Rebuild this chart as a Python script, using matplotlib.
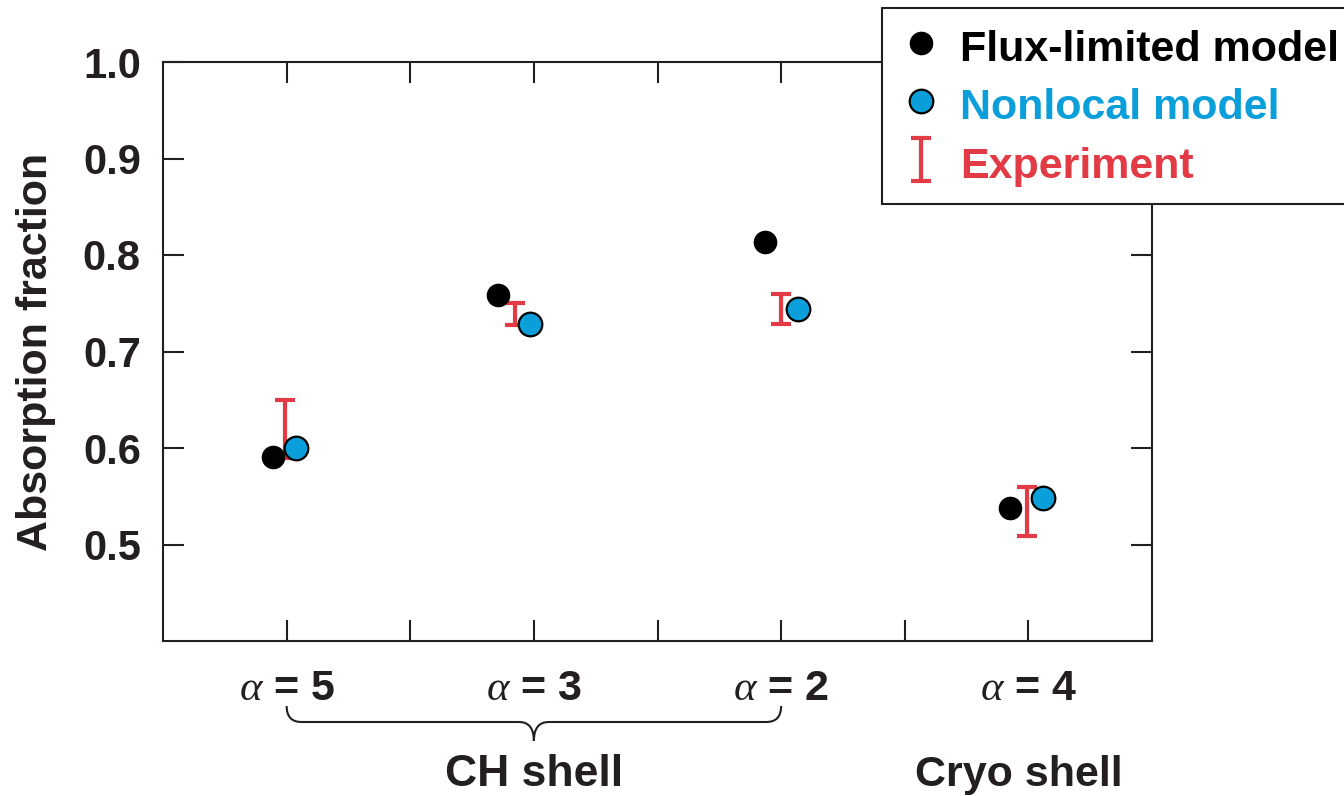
import matplotlib
matplotlib.use("Agg")
import matplotlib.pyplot as plt
from matplotlib.path import Path
from matplotlib.patches import PathPatch
from matplotlib.transforms import blended_transform_factory

# ---- data ----
categories = [r"$\alpha$ = 5", r"$\alpha$ = 3", r"$\alpha$ = 2", r"$\alpha$ = 4"]
flux_x = [-0.057, 0.854, 1.935, 2.927]
flux_y = [0.591, 0.759, 0.813, 0.538]
nonlocal_x = [0.036, 0.984, 2.069, 3.061]
nonlocal_y = [0.600, 0.728, 0.744, 0.548]
exp_x = [-0.008, 0.923, 2.0, 2.996]
exp_lo = [0.590, 0.727, 0.729, 0.509]
exp_hi = [0.650, 0.750, 0.760, 0.560]
yticks = [0.5, 0.6, 0.7, 0.8, 0.9, 1.0]
group_labels = ["CH shell", "Cryo shell"]

plt.rcParams['font.family'] = ['Liberation Sans', 'DejaVu Sans']
plt.rcParams['mathtext.fontset'] = 'custom'
plt.rcParams['mathtext.it'] = 'Liberation Serif:italic'
plt.rcParams['mathtext.rm'] = 'Liberation Serif'

BLUE = '#0a9fda'
RED = '#e23b45'
DARK = '#231f20'

fig = plt.figure(figsize=(13.44, 7.96), dpi=100)
ax = fig.add_axes([163/1344, 1-641/796, (1152-163)/1344, (641-62)/796])

exp_c = [(a + b) / 2 for a, b in zip(exp_lo, exp_hi)]
exp_e = [(b - a) / 2 for a, b in zip(exp_lo, exp_hi)]

ax.errorbar(exp_x, exp_c, yerr=exp_e, fmt='none', ecolor=RED, elinewidth=3,
            capsize=7.5, capthick=3, zorder=2, label='Experiment')
ax.plot(flux_x, flux_y, 'o', color='black', markersize=17, markeredgewidth=0,
        zorder=3, label='Flux-limited model')
ax.plot(nonlocal_x, nonlocal_y, 'o', color=BLUE, markersize=17, markeredgecolor='black',
        markeredgewidth=1.6, zorder=4, label='Nonlocal model')

ax.set_xlim(-0.5, 3.5)
ax.set_ylim(0.4, 1.0)
ax.set_xticks(range(4))
ax.set_xticks([0.5, 1.5, 2.5], minor=True)
ax.set_xticklabels(categories, fontsize=31, fontweight='bold', color=DARK)
ax.set_yticks(yticks)
ax.set_yticklabels([f"{v:.1f}" for v in yticks], fontsize=30, fontweight='bold', color=DARK)
ax.tick_params(axis='both', which='both', direction='in', length=15, width=1.5,
               top=True, right=True, color=DARK)
ax.tick_params(axis='x', which='major', pad=20)
ax.tick_params(axis='y', which='major', pad=16)
for s in ax.spines.values():
    s.set_linewidth(1.5)
    s.set_color(DARK)

ax.set_ylabel("Absorption fraction", fontsize=31, fontweight='bold', color=DARK, labelpad=19)

# group labels
tr = blended_transform_factory(ax.transData, fig.transFigure)
ax.text(1.0, 1-775/796, group_labels[0], transform=tr, ha='center', va='center',
        fontsize=32, fontweight='bold', color=DARK)
ax.text(2.96, 1-775/796, group_labels[1], transform=tr, ha='center', va='center',
        fontsize=31, fontweight='bold', color=DARK)

# brace under CH shell categories
def fy(px):
    return 1 - px / 796
x0, x1, xc = 0.0, 2.0, 1.0
r = 0.06
yt, yh, ytip = fy(706), fy(722), fy(741)
verts = [(x0, yt), (x0, yh), (x0 + r, yh), (xc - r, yh), (xc, yh), (xc, ytip),
         (xc, yh), (xc + r, yh), (x1 - r, yh), (x1, yh), (x1, yt)]
codes = [Path.MOVETO, Path.CURVE3, Path.CURVE3, Path.LINETO, Path.CURVE3, Path.CURVE3,
         Path.CURVE3, Path.CURVE3, Path.LINETO, Path.CURVE3, Path.CURVE3]
brace = PathPatch(Path(verts, codes), transform=tr, fill=False, lw=1.5, edgecolor=DARK,
                  clip_on=False)
fig.add_artist(brace)

# legend
handles, labels = ax.get_legend_handles_labels()
order = ['Flux-limited model', 'Nonlocal model', 'Experiment']
hmap = dict(zip(labels, handles))
leg = fig.legend([hmap[k] for k in order], order, loc='upper left',
                 bbox_to_anchor=(882/1344, 1-8/796), frameon=True, fancybox=False,
                 edgecolor=DARK, framealpha=1, prop={'weight': 'bold', 'size': 31},
                 handlelength=1.0, handletextpad=0.42, borderpad=0.4, labelspacing=0.33,
                 borderaxespad=0, markerscale=1.0, handleheight=1.1)
leg.get_frame().set_linewidth(1.5)
for t, c in zip(leg.get_texts(), ['black', BLUE, RED]):
    t.set_color(c)

fig.savefig("out.png", dpi=100)
